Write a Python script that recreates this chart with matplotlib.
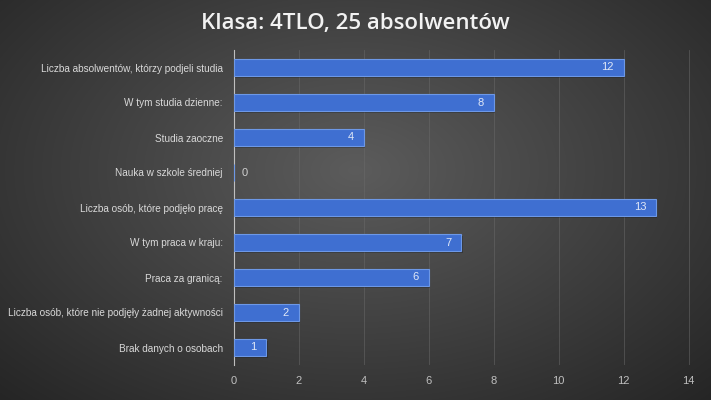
import matplotlib.pyplot as plt
import numpy as np

categories = [
    'Liczba absolwentów, którzy podjeli studia',
    'W tym studia dzienne:',
    'Studia zaoczne',
    'Nauka w szkole średniej',
    'Liczba osób, które podjęło pracę',
    'W tym praca w kraju:',
    'Praca za granicą:',
    'Liczba osób, które nie podjęły żadnej aktywności',
    'Brak danych o osobach',
]
values = [12, 8, 4, 0, 13, 7, 6, 2, 1]
xticks = [0, 2, 4, 6, 8, 10, 12, 14]

fig = plt.figure(figsize=(7.11, 4.0), dpi=100)

# radial gradient background
bg = fig.add_axes([0, 0, 1, 1], zorder=-10)
yy, xx = np.mgrid[0:400, 0:711]
r = np.sqrt(((xx - 355) / 520.0) ** 2 + ((yy - 170) / 330.0) ** 2)
shade = np.clip(0.36 - 0.22 * r, 0.13, 0.36)
bg.imshow(np.dstack([shade] * 3), aspect='auto', extent=[0, 1, 0, 1])
bg.axis('off')

ax = fig.add_axes([0.329, 0.0875, 0.644, 0.7875])
ax.set_facecolor('none')
pos = np.arange(len(categories))
# soft shadow under the bars
ax.barh(pos + 0.05, values, height=0.48, left=0.04, color='#000000', alpha=0.25,
        linewidth=0, zorder=2)
bars = ax.barh(pos, values, height=0.48, color='#3f6fd1', edgecolor='#6d98e6',
               linewidth=0.8, zorder=3)
for b, v in zip(bars, values):
    if v > 0:
        ax.text(v - 0.3, b.get_y() + b.get_height() / 2, str(v), color='#dfe7f7',
                ha='right', va='center', fontsize=8, family='Liberation Sans', zorder=4)
    else:
        ax.text(0.25, b.get_y() + b.get_height() / 2, str(v), color='#d0d0d0',
                ha='left', va='center', fontsize=8, family='Liberation Sans', zorder=4)

ax.set_ylim(len(categories) - 0.5, -0.5)
ax.set_xlim(0, 14.1)
ax.set_xticks(xticks)
ax.set_xticklabels([str(t) for t in xticks], family='Liberation Sans')
ax.set_yticks(pos)
ax.set_yticklabels(categories, fontsize=7.2, color='#d9d9d9',
                   family='Liberation Sans')
ax.tick_params(axis='x', colors='#bfbfbf', labelsize=8, length=0, pad=8)
ax.tick_params(axis='y', length=0, pad=8)
ax.grid(axis='x', color='#6a6a6a', linewidth=0.6, alpha=0.6, zorder=0)
for s in ['top', 'right', 'bottom']:
    ax.spines[s].set_visible(False)
ax.spines['left'].set_color('#bfbfbf')
ax.spines['left'].set_linewidth(0.8)

fig.text(0.5, 0.942, 'Klasa: 4TLO, 25 absolwentów', ha='center', va='center',
         fontsize=16, fontweight='semibold', color='#f2f2f2', family='Open Sans')

fig.savefig('out.png', dpi=100)
